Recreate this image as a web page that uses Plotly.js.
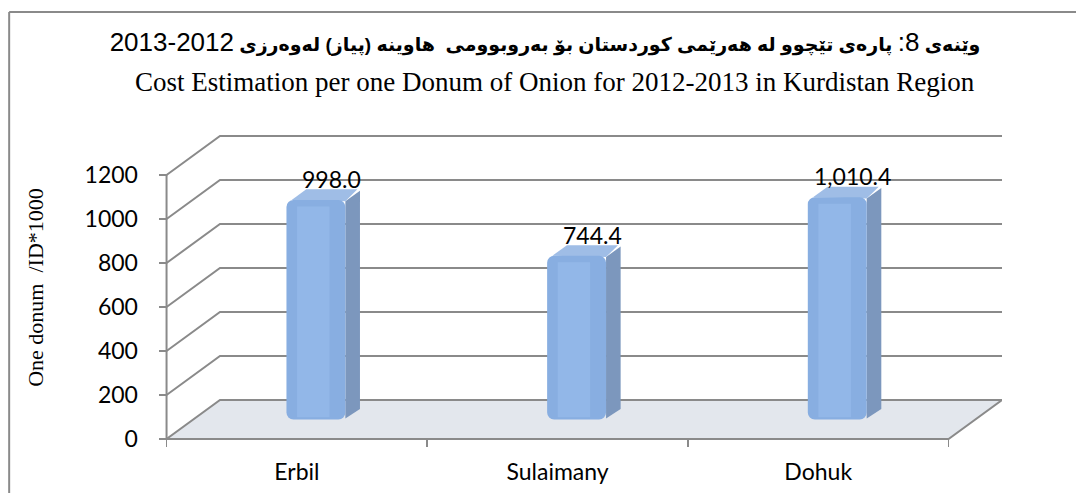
<!DOCTYPE html>
<html>
<head>
<meta charset="utf-8">
<script src="https://cdn.plot.ly/plotly-3.0.1.min.js"></script>
<style>
  html, body { margin: 0; padding: 0; background: #ffffff; }
  #chart { width: 1076px; height: 493px; }
</style>
</head>
<body>
<div id="chart"></div>
<script>
// ---- data ----
const categories = ['Erbil', 'Sulaimany', 'Dohuk'];
const values = [998.0, 744.4, 1010.4];
const yTickValues = [0, 200, 400, 600, 800, 1000, 1200];
const titleKurdishWord1 = 'وێنەی';
const titleFigureNo = '8:';
const titleKurdishBody = 'پارەی تێچوو له هەرێمی کوردستان بۆ بەروبوومی  هاوینە (پیاز) لەوەرزی';
const titleYears = '2012-2013';
const titleEnglish = 'Cost Estimation per one Donum of Onion for 2012-2013 in Kurdistan Region';
const yTitle = 'One donum  /ID*1000';

// ---- 3D-look geometry (styling constants) ----
const DX = 0.205;      // depth of the back wall, x units
const DY = 177.3;      // depth of the back wall, value units
const XMAX = 2.5 + DX;
const XMIN = -0.5635;
const YMIN = -27.27;
const YMAX = 1404.5;
const OFF = -0.04;     // bar front-face offset from category
const W = 0.226;       // bar front-face width
const BX = 0.056;      // bar depth x
const BY = 48;         // bar depth y
const BASE = DY / 2;   // bars stand at mid depth
const GRID = '#8a8a8a';

const labelTexts = values.map(v => v.toLocaleString('en-US', {minimumFractionDigits: 1, maximumFractionDigits: 1}));
const bigDigits = s => `<span style="font-size:26px;font-weight:normal">${s}</span>`;
const titleKurdish = `<b>${titleKurdishWord1}</b> ${bigDigits(titleFigureNo)} <b>${titleKurdishBody}</b> ${bigDigits(titleYears)}`;

const shapes = [];
// floor
shapes.push({type: 'path', xref: 'x', yref: 'y', layer: 'below',
  path: `M -0.5,0 L 2.5,0 L ${2.5 + DX},${DY} L ${-0.5 + DX},${DY} Z`,
  fillcolor: '#e3e7ed', line: {color: GRID, width: 2}});
// back wall gridlines with diagonals
yTickValues.filter(v => v > 0).forEach(v => {
  shapes.push({type: 'path', xref: 'x', yref: 'y', layer: 'below',
    path: `M -0.5,${v} L ${-0.5 + DX},${v + DY} L ${XMAX},${v + DY}`,
    line: {color: GRID, width: 2}});
});
// front value axis line
shapes.push({type: 'line', xref: 'x', yref: 'y', layer: 'below',
  x0: -0.5, x1: -0.5, y0: 0, y1: yTickValues[yTickValues.length - 1],
  line: {color: GRID, width: 2}});
// bar side and top faces
values.forEach((v, i) => {
  const xl = i + OFF, xr = xl + W, b = BASE, t = BASE + v;
  shapes.push({type: 'path', xref: 'x', yref: 'y', layer: 'below',
    path: `M ${xr},${b + 4} L ${xr + BX},${b + BY} L ${xr + BX},${t + BY - 6} L ${xr},${t - 6} Z`,
    fillcolor: '#7c97bd', line: {width: 0}});
  shapes.push({type: 'path', xref: 'x', yref: 'y', layer: 'below',
    path: `M ${xl + 0.02},${t} L ${xl + BX + 0.02},${t + BY} L ${xr + BX - 0.01},${t + BY} L ${xr},${t - 6} Z`,
    fillcolor: '#9fbde6', line: {width: 0}});
});
// chart border (left and top)
shapes.push({type: 'line', xref: 'paper', yref: 'paper', x0: -0.1653, x1: -0.1653, y0: -0.3, y1: 1.3746,
  line: {color: GRID, width: 2}});
shapes.push({type: 'line', xref: 'paper', yref: 'paper', x0: -0.1653, x1: 1.2, y0: 1.3746, y1: 1.3746,
  line: {color: GRID, width: 2}});

const annotations = values.map((v, i) => ({
  xref: 'x', yref: 'y', x: i + OFF + W / 2 + 0.06, y: BASE + v,
  text: labelTexts[i], showarrow: false, yanchor: 'middle', xanchor: 'center', yshift: 21,
  font: {family: 'Lato, Open Sans, sans-serif', size: 23, color: '#000000'}
}));
annotations.push({
  xref: 'paper', yref: 'paper', x: 0.4748, y: 1.1524, xanchor: 'center', yanchor: 'middle',
  text: titleEnglish, showarrow: false,
  font: {family: 'Liberation Serif, Times New Roman, serif', size: 27, color: '#000000'}
});

const traces = [
  {
    type: 'bar', x: categories, y: values, base: values.map(() => BASE),
    offset: OFF, width: W,
    marker: {color: '#88aee1', cornerradius: 7, line: {width: 0}},
    hoverinfo: 'x+y', name: 'Cost'
  },
  {
    type: 'bar', x: categories, y: values.map(v => v - 40), base: values.map(() => BASE + 10),
    offset: OFF + W * 0.18, width: W * 0.55,
    marker: {color: 'rgba(160,196,242,0.45)', cornerradius: 0, line: {width: 0}},
    hoverinfo: 'skip', showlegend: false
  }
];

const layout = {
  width: 1076, height: 493,
  margin: {l: 150, r: 74, t: 130, b: 48},
  paper_bgcolor: '#ffffff', plot_bgcolor: 'rgba(0,0,0,0)',
  showlegend: false,
  barmode: 'overlay',
  title: {
    text: titleKurdish, xref: 'container', yref: 'container',
    x: 0.5065, xanchor: 'center', y: 0.91, yanchor: 'middle',
    font: {family: 'Liberation Sans, DejaVu Sans, sans-serif', size: 19, color: '#000000'}
  },
  xaxis: {
    type: 'category', range: [XMIN, XMAX], anchor: 'free', position: 0.019,
    ticks: 'outside', tickson: 'boundaries', ticklen: 7, tickwidth: 1.5, tickcolor: GRID,
    showgrid: false, zeroline: false, showline: false, automargin: false,
    ticklabelstandoff: 17,
    tickfont: {family: 'Lato, Open Sans, sans-serif', size: 23, color: '#000000'}
  },
  yaxis: {
    range: [YMIN, YMAX], anchor: 'free', position: 0.0194,
    tickvals: yTickValues, ticktext: yTickValues.map(String),
    ticks: 'outside', ticklen: 8, tickwidth: 1.5, tickcolor: GRID,
    showgrid: false, zeroline: false, showline: false, automargin: false,
    ticklabelstandoff: 16,
    tickfont: {family: 'Lato, Open Sans, sans-serif', size: 23, color: '#000000'},
    title: {text: yTitle, standoff: 33,
      font: {family: 'Liberation Serif, Times New Roman, serif', size: 22, color: '#000000'}}
  },
  shapes: shapes,
  annotations: annotations
};

Plotly.newPlot('chart', traces, layout, {displayModeBar: false, staticPlot: true});
</script>
</body>
</html>
